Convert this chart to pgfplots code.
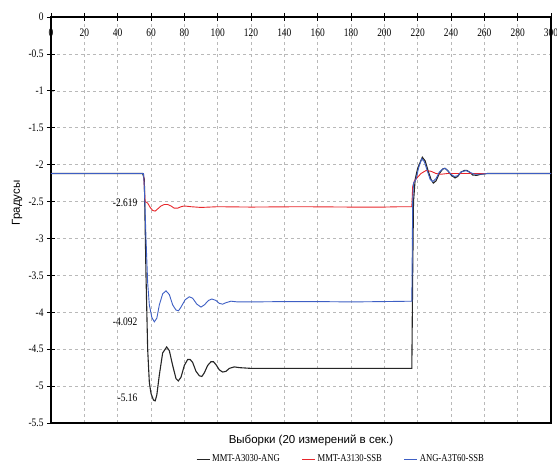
\documentclass[border=0pt]{standalone}
\usepackage{fontspec}
\setmainfont{Liberation Serif}
\newfontfamily\tickfont[FakeStretch=0.82]{Liberation Serif}
\newfontfamily\labelfont{Liberation Sans}
\usepackage{pgfplots}
\pgfplotsset{compat=1.18}
\definecolor{serA}{HTML}{262626}
\definecolor{serB}{HTML}{E8262B}
\definecolor{serC}{HTML}{3E5FC4}

\begin{document}
\begin{tikzpicture}
\begin{axis}[
  scale only axis, width=500pt, height=406pt,
  xmin=0, xmax=300, ymin=-5.5, ymax=0,
  xtick={0,20,...,300}, ytick={0,-0.5,...,-5.5},
  /pgf/number format/assume math mode=true,
  xtick pos=upper, ytick pos=left,
  xticklabel pos=upper,
  xticklabel style={anchor=north, yshift=-12pt},
  tick label style={font=\tickfont\fontsize{11.5}{11.5}\selectfont, text=black},
  tick align=center, major tick length=8pt,
  tick style={black, line width=0.8pt},
  axis line style={line width=1.6pt},
  grid=major,
  major grid style={gray!55, dash pattern=on 3pt off 3pt, line width=0.6pt},
  clip=false,
  legend style={at={(rel axis cs:0.58,-0.089)}, anchor=center, draw=none,
    fill=none, font=\tickfont\fontsize{10.5}{10.5}\selectfont, legend columns=3,
    /tikz/every even column/.append style={column sep=20pt}},
  legend image code/.code={\draw[#1] (0pt,0pt) -- (13pt,0pt);},
]
\addplot[serA, line width=1.1pt] coordinates {
(0,-2.12) (55,-2.12) (56,-2.2) (57,-3.5) (58,-4.5) (59,-4.95) (60,-5.1)
(61.5,-5.19) (62.5,-5.2) (63.5,-5.12) (65,-4.85) (67,-4.55) (69.4,-4.47)
(71,-4.52) (73,-4.72) (75,-4.9) (76.4,-4.93) (78,-4.88) (80,-4.72) (82,-4.64)
(83.5,-4.64) (85,-4.68) (87,-4.8) (89,-4.86) (90.5,-4.87) (92,-4.82)
(94,-4.72) (96,-4.67) (97.5,-4.67) (99,-4.71) (101,-4.78) (103,-4.81)
(105,-4.80) (107,-4.76) (110,-4.74) (113,-4.75) (120,-4.76) (216.5,-4.76)
(217,-3.5) (217.5,-2.5) (218.5,-2.2) (220,-2.05) (222.8,-1.9) (224.5,-1.95)
(226.5,-2.1) (228,-2.2) (229.4,-2.25) (231,-2.22) (233,-2.12) (235,-2.06)
(236.4,-2.05) (238,-2.08) (240,-2.14) (242.4,-2.18) (244,-2.16) (246,-2.1)
(248,-2.08) (249.6,-2.08) (251,-2.1) (253,-2.14) (255.4,-2.145) (258,-2.13)
(262,-2.12) (300,-2.12)};
\addlegendentry{MMT-A3030-ANG}
\addplot[serB, line width=0.9pt] coordinates {
(0,-2.12) (55.5,-2.12) (56,-2.3) (56.5,-2.5) (58,-2.52) (59.5,-2.58)
(61,-2.62) (62.5,-2.63) (64,-2.6) (66,-2.56) (68,-2.54) (70,-2.54)
(72,-2.56) (74,-2.59) (76,-2.59) (78,-2.57) (80,-2.56) (84,-2.57)
(90,-2.58) (100,-2.57) (120,-2.575) (150,-2.57) (180,-2.575) (200,-2.575)
(210,-2.57) (216.5,-2.57) (217,-2.3) (218,-2.22) (220,-2.17) (222,-2.12)
(225,-2.08) (228,-2.09) (231,-2.12) (234,-2.13) (238,-2.12) (300,-2.12)};
\addlegendentry{MMT-A3130-SSB}
\addplot[serC, line width=0.9pt] coordinates {
(0,-2.12) (55.5,-2.12) (56,-2.3) (57,-3.0) (58,-3.6) (59,-3.9) (60.5,-4.07)
(62,-4.13) (63.5,-4.08) (65,-3.9) (67,-3.75) (69,-3.71) (71,-3.76)
(73,-3.9) (75,-3.97) (76.5,-3.98) (78,-3.93) (80.5,-3.83) (83,-3.79)
(85,-3.81) (87.5,-3.89) (90,-3.93) (92,-3.9) (94.5,-3.84) (96.5,-3.82)
(99,-3.84) (101,-3.88) (103,-3.89) (105,-3.87) (108,-3.85) (112,-3.86)
(120,-3.86) (140,-3.855) (160,-3.855) (180,-3.86) (200,-3.855) (216.5,-3.85)
(217,-2.5) (217.5,-2.25) (219,-2.2) (220.5,-2.05) (222.4,-1.92) (224,-1.96)
(226,-2.1) (227.5,-2.2) (229,-2.23) (231,-2.19) (233,-2.1) (235,-2.06)
(236.5,-2.05) (238,-2.08) (240,-2.13) (242,-2.16) (244,-2.15) (246,-2.1)
(249,-2.08) (251,-2.1) (254,-2.13) (258,-2.13) (262,-2.12) (300,-2.12)};
\addlegendentry{ANG-A3T60-SSB}
\node[anchor=east, font=\tickfont\fontsize{11.5}{11.5}\selectfont, inner sep=1pt] at (axis cs:52.5,-2.52) {-2.619};
\node[anchor=east, font=\tickfont\fontsize{11.5}{11.5}\selectfont, inner sep=1pt] at (axis cs:52.5,-4.13) {-4.092};
\node[anchor=east, font=\tickfont\fontsize{11.5}{11.5}\selectfont, inner sep=1pt] at (axis cs:52.5,-5.16) {-5.16};
\node[rotate=90, font=\labelfont\fontsize{11.5}{11.5}\selectfont] at (rel axis cs:-0.068,0.542) {Градусы};
\node[font=\labelfont\fontsize{11.5}{11.5}\selectfont] at (rel axis cs:0.52,-0.042) {Выборки (20 измерений в сек.)};
\end{axis}
\pgfresetboundingbox
\path ([shift={(-51pt,-45pt)}]current axis.south west) rectangle ([shift={(6pt,17pt)}]current axis.north east);
\end{tikzpicture}
\end{document}
